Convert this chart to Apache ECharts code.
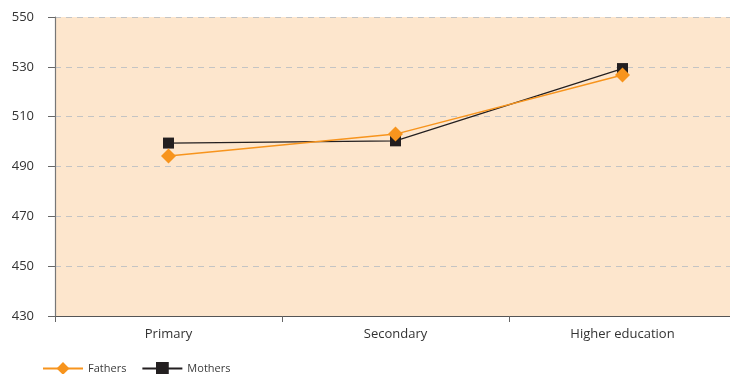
<!DOCTYPE html>
<html>
<head>
<meta charset="utf-8">
<script src="https://cdn.jsdelivr.net/npm/echarts@6/dist/echarts.min.js"></script>
<style>
  html, body { margin: 0; padding: 0; background: #ffffff; }
  #chart { width: 730px; height: 374px; }
</style>
</head>
<body>
<div id="chart"></div>
<script>
// Parental education level categories
const categories = ['Primary', 'Secondary', 'Higher education'];
// Mean scores by education level of each parent
const fathers = [494.2, 503.0, 526.7];
const mothers = [499.4, 500.3, 529.3];
// Value axis range
const yMin = 430, yMax = 550, yStep = 20;

const chart = echarts.init(document.getElementById('chart'), null, { renderer: 'canvas' });
const font = '"Open Sans", "Noto Sans", sans-serif';

chart.setOption({
  animation: false,
  backgroundColor: '#ffffff',
  grid: {
    left: 55, width: 681, top: 17, height: 299,
    outerBoundsMode: 'none',
    containLabel: false,
    show: true, backgroundColor: '#fde6cd', borderWidth: 0
  },
  legend: {
    left: 37, top: 357,
    itemWidth: 40, itemHeight: 16, itemGap: 15,
    textStyle: { fontFamily: font, fontSize: 11, color: '#3a3a3a' },
    data: ['Fathers', 'Mothers']
  },
  xAxis: {
    type: 'category',
    data: categories,
    boundaryGap: true,
    axisLine: { lineStyle: { color: '#555', width: 1.2 } },
    axisTick: { show: true, length: 6, lineStyle: { color: '#666' } },
    axisLabel: { fontFamily: font, fontSize: 13, color: '#333', margin: 12 }
  },
  yAxis: {
    type: 'value',
    min: yMin, max: yMax, interval: yStep,
    axisLine: { show: true, lineStyle: { color: '#777', width: 1.2 } },
    axisTick: { show: true, length: 7, lineStyle: { color: '#666' } },
    axisLabel: { fontFamily: font, fontSize: 13, color: '#333', margin: 21 },
    splitLine: { show: true, lineStyle: { color: '#c4c4c4', type: [6, 5], width: 1 } }
  },
  series: [
    {
      name: 'Fathers', type: 'line', data: fathers,
      symbol: 'diamond', symbolSize: 15,
      itemStyle: { color: '#f7941d' },
      lineStyle: { color: '#f7941d', width: 1.5 },
      z: 3
    },
    {
      name: 'Mothers', type: 'line', data: mothers,
      symbol: 'rect', symbolSize: 11,
      itemStyle: { color: '#231f20' },
      lineStyle: { color: '#231f20', width: 1.2 },
      z: 2
    }
  ]
});
</script>
</body>
</html>
